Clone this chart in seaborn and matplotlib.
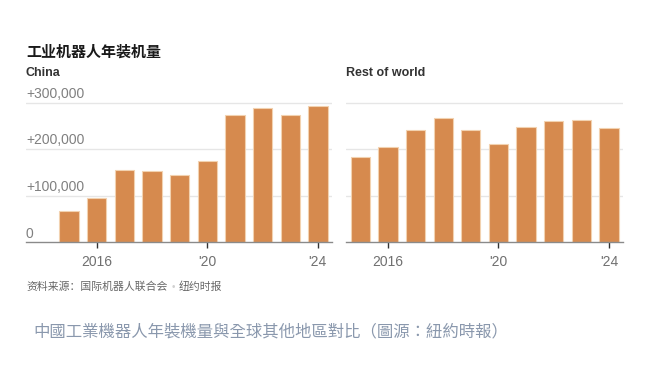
import matplotlib
matplotlib.use("Agg")
import matplotlib.pyplot as plt
import matplotlib.transforms as mtransforms
from matplotlib.text import Annotation
import seaborn as sns
import pandas as pd

years = [2015, 2016, 2017, 2018, 2019, 2020, 2021, 2022, 2023, 2024]
china = [66500, 95000, 155000, 154000, 144000, 174000, 273000, 288000, 273000, 293000]
rest_of_world = [183000, 205000, 242000, 266000, 240000, 212000, 248000, 261000, 263000, 245000]
y_ticks = [0, 100000, 200000, 300000]
y_tick_labels = ["0", "+100,000", "+200,000", "+300,000"]
x_ticks = [2016, 2020, 2024]
x_tick_labels = ["2016", "'20", "'24"]

title = "工业机器人年装机量"
panel_titles = ["China", "Rest of world"]
source_a = "资料来源：国际机器人联合会"
source_b = "纽约时报"
caption = "中國工業機器人年裝機量與全球其他地區對比（圖源：紐約時報）"

sns.set_theme(style="white")
plt.rcParams["font.family"] = ["Liberation Sans", "Noto Sans CJK SC", "DejaVu Sans"]

BAR = "#d68a4e"
EDGE = "#f2d2b0"
GRID = "#e6e6e6"

fig = plt.figure(figsize=(6.72, 3.66), dpi=100)
fig.patch.set_facecolor("white")

W, H = 672, 366
base_y = 242.3
px_per_100k = 46.6
ytop = 320000
ax_h = px_per_100k * ytop / 100000

def add_ax(x0, x1):
    return fig.add_axes([x0 / W, (H - base_y) / H, (x1 - x0) / W, ax_h / H])

ax1 = add_ax(26, 331.7)
ax2 = add_ax(346, 622.7)

df1 = pd.DataFrame({"year": years, "value": china})
df2 = pd.DataFrame({"year": years, "value": rest_of_world})

for ax, df, xlim in [(ax1, df1, (2013.45, 2024.5)), (ax2, df2, (2014.48, 2024.5))]:
    ax.set_facecolor("none")
    for v in y_ticks[1:]:
        ax.axhline(v, color=GRID, lw=1, zorder=0)
    sns.barplot(data=df, x="year", y="value", native_scale=True, width=0.7,
                color=BAR, edgecolor=EDGE, linewidth=0.8, saturation=1, ax=ax, zorder=2)
    ax.set_xlim(*xlim)
    ax.set_ylim(0, ytop)
    for s in ["top", "right", "left"]:
        ax.spines[s].set_visible(False)
    ax.spines["bottom"].set_color("#8a8a8a")
    ax.spines["bottom"].set_linewidth(1)
    ax.spines["bottom"].set_zorder(3)
    ax.set_xticks(x_ticks)
    ax.set_xticklabels(x_tick_labels)
    ax.tick_params(axis="x", bottom=True, length=4, width=1, color="#333333",
                   labelsize=10, labelcolor="#707070", pad=5)
    ax.set_xlabel("")
    ax.set_ylabel("")
    ax.set_yticks([])

# y labels on left panel: left-aligned above gridlines
offset = mtransforms.ScaledTranslation(0, 1.2 / 72, fig.dpi_scale_trans)
trans = mtransforms.blended_transform_factory(ax1.transAxes, ax1.transData) + offset
for v, lab in zip(y_ticks, y_tick_labels):
    ax1.text(0, v, lab, transform=trans, ha="left", va="bottom", fontsize=10,
             color="#808080")

# titles
fig.text(26 / W, 1 - 51.7 / H, title, ha="left", va="center", fontsize=10.8,
         fontweight="bold", color="#1a1a1a", family=["Noto Sans CJK SC"])
fig.text(26 / W, 1 - 73.3 / H, panel_titles[0], ha="left", va="center", fontsize=9,
         fontweight="bold", color="#333333")
fig.text(346 / W, 1 - 73.3 / H, panel_titles[1], ha="left", va="center", fontsize=9,
         fontweight="bold", color="#333333")

# source
t1 = fig.text(26 / W, 1 - 287 / H, source_a, ha="left", va="center", fontsize=7.8,
              color="#666666", family=["Noto Sans CJK SC"])
a2 = fig.add_artist(Annotation("•", xy=(1, 0.5), xycoords=t1,
                    xytext=(3, 0), textcoords="offset points", ha="left", va="center",
                    fontsize=7, color="#d0d0d0"))
fig.add_artist(Annotation(source_b, xy=(1, 0.5), xycoords=a2,
               xytext=(3, 0), textcoords="offset points", ha="left", va="center",
               fontsize=7.8, color="#666666", family=["Noto Sans CJK SC"]))

# caption
fig.text(33.5 / W, 1 - 331.7 / H, caption, ha="left", va="center", fontsize=11.8,
         color="#8a98ad", family=["Noto Sans CJK TC"])

fig.savefig("out.png", dpi=100, facecolor="white")
